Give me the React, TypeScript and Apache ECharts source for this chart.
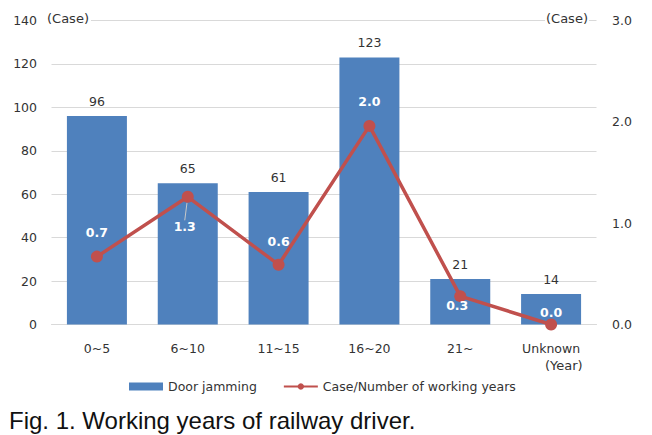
import React, { useEffect, useRef } from "react";
import * as echarts from "echarts";

const categories = ["0~5", "6~10", "11~15", "16~20", "21~", "Unknown"];
const doorJamming = [96, 65, 61, 123, 21, 14];
const casePerYear = [0.67, 1.26, 0.59, 1.96, 0.28, 0.0];
const lineLabelOffsets = [
  [0, -24],
  [-3, 30],
  [0, -23],
  [0, -24],
  [-3, 9],
  [0, -12],
];
const leaderLineIndex = 1;

const FONT = "DejaVu Sans";

export default function App() {
  const ref = useRef<HTMLDivElement>(null);
  useEffect(() => {
    if (!ref.current) return;
    const chart = echarts.init(ref.current, null, { renderer: "svg" });
    chart.setOption({
      animation: false,
      backgroundColor: "#ffffff",
      textStyle: { fontFamily: FONT },
      grid: { left: 51.5, right: 55.5, top: 20.5, bottom: 110.5 },
      legend: {
        left: 124,
        top: 375,
        itemWidth: 34,
        itemHeight: 8,
        itemGap: 26,
        textStyle: { fontFamily: FONT, fontSize: 12.5, color: "#333" },
        data: [
          { name: "Door jamming", icon: "rect" },
          { name: "Case/Number of working years" },
        ],
      },
      xAxis: {
        type: "category",
        data: categories,
        axisLine: { lineStyle: { color: "#d9d9d9" } },
        axisTick: { show: false },
        axisLabel: { color: "#333", fontFamily: FONT, fontSize: 12.5, margin: 17 },
      },
      yAxis: [
        {
          type: "value",
          min: 0,
          max: 140,
          interval: 20,
          axisLine: { show: false },
          axisTick: { show: false },
          splitLine: { lineStyle: { color: "#d9d9d9" } },
          axisLabel: { color: "#333", fontFamily: FONT, fontSize: 12.5, margin: 14.5 },
        },
        {
          type: "value",
          min: 0,
          max: 3,
          interval: 1,
          position: "right",
          axisLine: { show: false },
          axisTick: { show: false },
          splitLine: { show: false },
          axisLabel: {
            color: "#333",
            fontFamily: FONT,
            fontSize: 12.5,
            margin: 15.5,
            formatter: (v: number) => v.toFixed(1),
          },
        },
      ],
      series: [
        {
          name: "Door jamming",
          type: "bar",
          data: doorJamming,
          barWidth: 60,
          itemStyle: { color: "#4f81bd" },
          label: {
            show: true,
            position: "top",
            distance: 8,
            color: "#333",
            fontFamily: FONT,
            fontSize: 12.5,
          },
        },
        {
          name: "Case/Number of working years",
          type: "line",
          yAxisIndex: 1,
          data: casePerYear.map((v, i) =>
            i === leaderLineIndex
              ? { value: v, labelLine: { show: true } }
              : { value: v, labelLine: { show: false } }
          ),
          color: "#c0504d",
          lineStyle: { color: "#c0504d", width: 3.5 },
          itemStyle: { color: "#c0504d" },
          symbol: "circle",
          symbolSize: 12,
          z: 5,
          label: {
            show: true,
            position: "inside",
            color: "#ffffff",
            fontWeight: "bold",
            fontFamily: FONT,
            fontSize: 12.5,
            formatter: (p: any) => Number(p.value).toFixed(1),
          },
          labelLine: {
            show: false,
            showAbove: false,
            lineStyle: { color: "#c8c8c8", width: 1 },
          },
          labelLayout: (p: any) => {
            const o = lineLabelOffsets[p.dataIndex] || [0, 0];
            return { dx: o[0], dy: o[1] };
          },
        },
      ],
      graphic: [
        {
          type: "text",
          left: 46,
          top: 12,
          z: 10,
          style: {
            text: "(Case)",
            fontFamily: FONT,
            fontSize: 13,
            fill: "#333",
            backgroundColor: "#fff",
            padding: [0, 2, 0, 1],
          },
        },
        {
          type: "text",
          left: 545,
          top: 12,
          z: 10,
          style: {
            text: "(Case)",
            fontFamily: FONT,
            fontSize: 13,
            fill: "#333",
            backgroundColor: "#fff",
            padding: [0, 1, 0, 1],
          },
        },
        {
          type: "text",
          left: 545,
          top: 359,
          style: { text: "(Year)", fontFamily: FONT, fontSize: 13, fill: "#333" },
        },
        {
          type: "text",
          x: 9,
          y: 420,
          style: {
            text: "Fig. 1. Working years of railway driver.",
            fontFamily: "Liberation Sans",
            fontSize: 24,
            fill: "#111",
            verticalAlign: "middle",
          },
        },
      ],
    });
    return () => chart.dispose();
  }, []);
  return (
    <div
      ref={ref}
      style={{ position: "fixed", left: 0, top: 0, width: 652, height: 435, background: "#fff" }}
    />
  );
}
